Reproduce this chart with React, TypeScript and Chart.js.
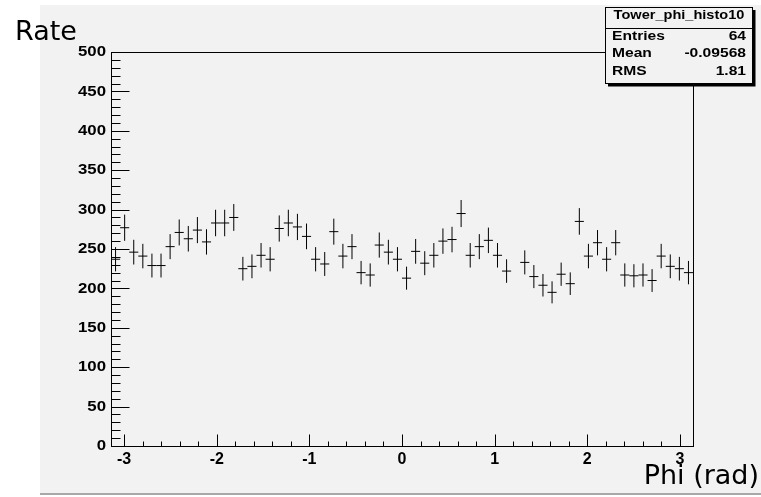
import { useEffect, useRef } from "react";
import { Chart, registerables } from "chart.js";

Chart.register(...registerables);

// ---- data ----
const PHI_MIN = -Math.PI;
const PHI_MAX = Math.PI;
const N_BINS = 64;

const rates = [
  237, 277, 246, 241, 229, 229, 253, 271, 263, 274, 259, 283, 283, 290, 225, 228,
  242, 237, 276, 283, 278, 266, 237, 231, 272, 241, 253, 220, 217, 255, 246, 237,
  213, 247, 232, 242, 260, 262, 295, 242, 253, 261, 242, 222, 0, 233, 215, 204,
  195, 218, 206, 285, 241, 258, 237, 258, 217, 216, 217, 210, 241, 228, 225, 220,
];

const xTickLabels = [-3, -2, -1, 0, 1, 2, 3];
const xMinorStep = 0.2;
const yTickLabels = [0, 50, 100, 150, 200, 250, 300, 350, 400, 450, 500];
const yMinorStep = 10;
const Y_MAX = 500;

const statTitle = "Tower_phi_histo10";
const statNames = ["Entries", "Mean", "RMS"];
const statValues = ["64", "-0.09568", "1.81"];

const yAxisTitle = "Rate";
const xAxisTitle = "Phi (rad)";

const BG = "#f2f2f2";

const binWidth = (PHI_MAX - PHI_MIN) / N_BINS;
const points = rates.map((r, i) => ({ x: PHI_MIN + (i + 0.5) * binWidth, y: r }));

const rootPlugin = {
  id: "rootStyle",
  beforeDraw(chart: any) {
    const ctx = chart.ctx;
    ctx.save();
    ctx.fillStyle = "#ffffff";
    ctx.fillRect(0, 0, chart.width, chart.height);
    ctx.fillStyle = BG;
    ctx.fillRect(40, 5, chart.width - 40, 488);
    ctx.fillStyle = "#a8a8a8";
    ctx.fillRect(40, 493, chart.width - 40, 2);
    ctx.restore();
  },
  afterDatasetsDraw(chart: any) {
    const ctx = chart.ctx;
    const xs = chart.scales.x;
    const ys = chart.scales.y;
    ctx.save();
    ctx.strokeStyle = "#000000";
    ctx.lineWidth = 1;
    const data = chart.data.datasets[0].data as { x: number; y: number }[];
    data.forEach((p) => {
      if (p.y <= 0) return;
      const err = Math.sqrt(p.y);
      const cx = xs.getPixelForValue(p.x);
      const x0 = xs.getPixelForValue(p.x - binWidth / 2);
      const x1 = xs.getPixelForValue(p.x + binWidth / 2);
      const cy = ys.getPixelForValue(p.y);
      const yLo = ys.getPixelForValue(p.y - err);
      const yHi = ys.getPixelForValue(p.y + err);
      ctx.beginPath();
      ctx.moveTo(cx, yLo);
      ctx.lineTo(cx, yHi);
      ctx.moveTo(x0, cy);
      ctx.lineTo(x1, cy);
      ctx.stroke();
    });
    ctx.restore();
  },
  afterDraw(chart: any) {
    const ctx = chart.ctx;
    const xs = chart.scales.x;
    const ys = chart.scales.y;
    const a = chart.chartArea;
    const L = Math.round(a.left) + 0.5;
    const R = Math.round(a.right) + 0.5;
    const T = Math.round(a.top) + 0.5;
    const B = Math.round(a.bottom) + 0.5;
    ctx.save();
    ctx.strokeStyle = "#000000";
    ctx.lineWidth = 1;
    // frame
    ctx.strokeRect(L, T, R - L, B - T);

    // y ticks (inside, on left axis)
    ctx.beginPath();
    for (let v = 0; v <= Y_MAX + 1e-9; v += yMinorStep) {
      const py = Math.round(ys.getPixelForValue(v)) + 0.5;
      const major = Math.abs(v % 50) < 1e-6;
      ctx.moveTo(L, py);
      ctx.lineTo(L + (major ? 18 : 9), py);
    }
    // x ticks (inside, on bottom axis)
    for (let k = -15; k <= 15; k++) {
      const v = k * xMinorStep;
      if (v < PHI_MIN || v > PHI_MAX) continue;
      const px = Math.round(xs.getPixelForValue(v)) + 0.5;
      const major = k % 5 === 0;
      ctx.moveTo(px, B);
      ctx.lineTo(px, B - (major ? 12 : 5));
    }
    ctx.stroke();

    // tick labels
    ctx.fillStyle = "#000000";
    ctx.font = 'bold 15px "Liberation Sans", Arial, sans-serif';
    ctx.textBaseline = "middle";
    yTickLabels.forEach((v) => {
      const py = ys.getPixelForValue(v);
      ctx.save();
      ctx.translate(a.left - 5, py);
      ctx.scale(1.12, 1);
      ctx.textAlign = "right";
      ctx.fillText(String(v), 0, 0);
      ctx.restore();
    });
    ctx.font = 'bold 16px "Liberation Sans", Arial, sans-serif';
    ctx.textBaseline = "top";
    xTickLabels.forEach((v) => {
      const px = xs.getPixelForValue(v);
      ctx.save();
      ctx.translate(px, a.bottom + 6);
      ctx.textAlign = "center";
      ctx.fillText(String(v), 0, 0);
      ctx.restore();
    });

    // axis titles
    ctx.font = '27px "DejaVu Sans", Verdana, sans-serif';
    ctx.textBaseline = "alphabetic";
    ctx.textAlign = "left";
    ctx.fillText(yAxisTitle, 15, 40);
    ctx.textAlign = "right";
    ctx.fillText(xAxisTitle, 759, 484);

    // stats box
    const bx = 605.5, by = 7.5, bw = 147, bh = 76;
    ctx.fillStyle = "#000000";
    ctx.fillRect(bx + 2.5, by + 2.5, bw + 0.5, bh + 0.5);
    ctx.fillStyle = BG;
    ctx.fillRect(bx, by, bw, bh);
    ctx.strokeRect(bx, by, bw, bh);
    ctx.beginPath();
    ctx.moveTo(bx, 28.5);
    ctx.lineTo(bx + bw, 28.5);
    ctx.stroke();
    ctx.fillStyle = "#000000";
    ctx.font = 'bold 13px "Liberation Sans", Arial, sans-serif';
    ctx.textBaseline = "alphabetic";
    ctx.save();
    ctx.translate(bx + bw / 2, 18.5);
    ctx.scale(1.12, 1);
    ctx.textAlign = "center";
    ctx.fillText(statTitle, 0, 0);
    ctx.restore();
    const rowBase = [39.5, 57, 74.5];
    statNames.forEach((name, i) => {
      ctx.save();
      ctx.translate(612, rowBase[i]);
      ctx.scale(1.2, 1);
      ctx.textAlign = "left";
      ctx.fillText(name, 0, 0);
      ctx.restore();
      ctx.save();
      ctx.translate(746, rowBase[i]);
      ctx.scale(1.2, 1);
      ctx.textAlign = "right";
      ctx.fillText(statValues[i], 0, 0);
      ctx.restore();
    });
    ctx.restore();
  },
};

export default function App() {
  const ref = useRef<HTMLCanvasElement | null>(null);
  useEffect(() => {
    if (!ref.current) return;
    const chart = new Chart(ref.current, {
      type: "scatter",
      data: {
        datasets: [
          {
            label: statTitle,
            data: points,
            pointRadius: 0,
            pointHoverRadius: 0,
            showLine: false,
          },
        ],
      },
      options: {
        responsive: false,
        animation: false,
        devicePixelRatio: 1,
        layout: { padding: { left: 111, top: 52, right: 68, bottom: 51 } },
        plugins: { legend: { display: false }, tooltip: { enabled: false } },
        scales: {
          x: { type: "linear", min: PHI_MIN, max: PHI_MAX, display: false },
          y: { type: "linear", min: 0, max: Y_MAX, display: false },
        },
      },
      plugins: [rootPlugin],
    });
    return () => chart.destroy();
  }, []);
  return (
    <div style={{ position: "fixed", left: 0, top: 0, width: 761, height: 497 }}>
      <canvas ref={ref} width={761} height={497} style={{ display: "block" }} />
    </div>
  );
}
